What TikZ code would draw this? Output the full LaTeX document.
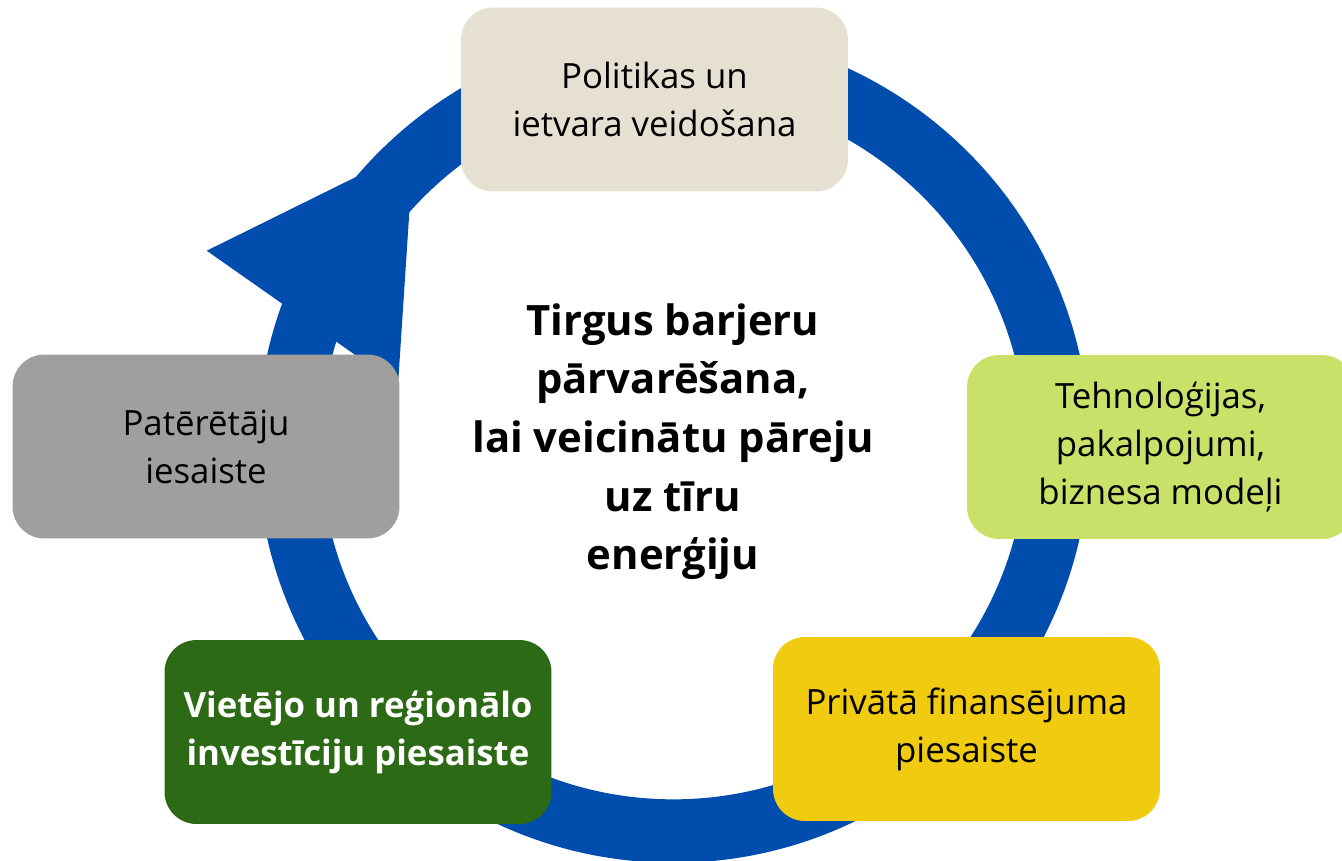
\documentclass[tikz,border=0pt]{standalone}
\usepackage{fontspec}
\setmainfont{Open Sans}
\definecolor{ringblue}{HTML}{004DAD}
\definecolor{policybg}{HTML}{E6E0D3}
\definecolor{techbg}{HTML}{C9E168}
\definecolor{privbg}{HTML}{F0CB0F}
\definecolor{localbg}{HTML}{2D6A16}
\definecolor{consbg}{HTML}{A09F9E}
\begin{document}
\begin{tikzpicture}[x=0.02cm, y=-0.02cm,
    box/.style={rectangle, rounded corners=0.64cm, minimum width=7.74cm,
      minimum height=3.68cm, inner sep=0pt, align=center,
      font=\fontsize{19.8}{27.3}\selectfont}]
  \useasboundingbox (0,0) rectangle (1342,860);
  % ring and arrow head
  \fill[ringblue, even odd rule] (673.4,446.4) circle [radius=8.33cm]
    (673.4,446.4) circle [radius=7.06cm];
  \fill[ringblue] (206.7,250.7) -- (413.5,148.5) -- (398,385) -- cycle;
  % boxes
  \begin{scope}[every node/.style={box}]
    \node [fill=policybg] (policy) at (654.5,99.5) {Politikas un\\ ietvara veidošana};
    \node [fill=techbg] (tech) at (1160.5,447) {Tehnoloģijas,\\ pakalpojumi,\\ biznesa modeļi};
    \node [fill=privbg] (priv) at (966.5,729) {Privātā finansējuma\\ piesaiste};
    \node [fill=localbg, text=white, font=\fontsize{19.8}{27.3}\selectfont\bfseries]
      (local) at (358,732) {Vietējo un reģionālo\\ investīciju piesaiste};
    \node [fill=consbg] (cons) at (206,446.5) {Patērētāju\\ iesaiste};
  \end{scope}
  \node [align=center, font=\fontsize{23.8}{33.4}\selectfont\bfseries] (goal)
    at (673,441.5) {Tirgus barjeru\\ pārvarēšana,\\ lai veicinātu pāreju\\ uz tīru\\ enerģiju};
\end{tikzpicture}
\end{document}
